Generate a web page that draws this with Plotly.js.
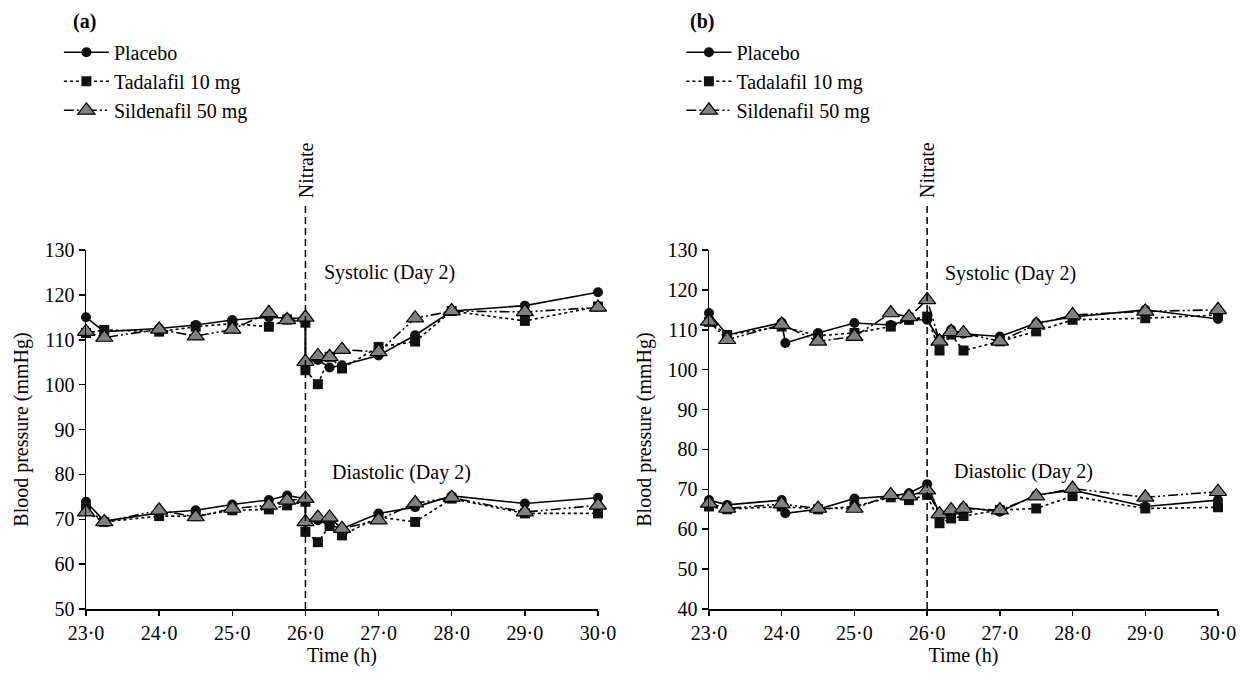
<!DOCTYPE html>
<html><head><meta charset="utf-8">
<script src="https://cdn.plot.ly/plotly-3.0.1.min.js"></script>
<style>html,body{margin:0;padding:0;background:#fff;}#chart{width:1240px;height:683px;}</style>
</head><body><div id="chart"></div>
<script>
// Time points (h)
const timesA = [23.0, 23.25, 24.0, 24.5, 25.0, 25.5, 25.75, 26.0, 26.0, 26.17, 26.33, 26.5, 27.0, 27.5, 28.0, 29.0, 30.0];
const timesB = [23.0, 23.25, 24.0, 24.05, 24.5, 25.0, 25.5, 25.75, 26.0, 26.17, 26.33, 26.5, 27.0, 27.5, 28.0, 29.0, 30.0];

// Panel (a)
const placeboSysA    = [115.0, 111.8, 112.5, 113.3, 114.4, 115.0, 114.8, 114.8, 105.0, 105.5, 103.8, 104.3, 106.5, 111.0, 116.4, 117.6, 120.6];
const tadalafilSysA  = [111.5, 112.2, 111.8, 112.9, 113.6, 112.9, 114.5, 113.8, 103.2, 100.1, 106.2, 103.6, 108.4, 109.6, 116.4, 114.2, 117.4];
const sildenafilSysA = [111.8, 110.5, 112.3, 110.8, 112.3, 116.0, 114.4, 115.0, 105.1, 106.4, 106.2, 107.8, 107.3, 114.8, 116.4, 116.2, 117.2];
const placeboDiaA    = [73.9, 69.6, 71.4, 72.0, 73.3, 74.3, 75.3, 74.6, 69.4, 69.8, 68.7, 67.9, 71.3, 72.7, 75.2, 73.5, 74.8];
const tadalafilDiaA  = [72.4, 69.4, 70.7, 70.7, 72.0, 72.2, 73.1, 73.9, 67.2, 64.9, 68.5, 66.4, 70.5, 69.4, 74.6, 71.3, 71.3];
const sildenafilDiaA = [71.6, 69.4, 72.0, 70.5, 72.4, 73.1, 74.2, 74.6, 69.4, 70.4, 70.4, 67.9, 69.8, 73.6, 74.8, 71.6, 73.1];

// Panel (b)
const placeboSysB    = [114.2, 108.7, 111.8, 106.7, 109.2, 111.7, 111.2, 112.5, 112.5, 107.5, 110.0, 109.0, 108.3, 111.7, 113.2, 115.0, 112.7];
const tadalafilSysB  = [112.0, 108.7, 110.8, null, 108.5, 109.2, 110.8, 112.5, 113.3, 104.8, 108.8, 104.8, 107.1, 109.6, 112.5, 112.9, 113.7];
const sildenafilSysB = [112.1, 107.5, 111.3, null, 107.1, 108.3, 114.2, 113.2, 117.5, 107.1, 109.5, 109.2, 107.1, 111.3, 113.7, 114.6, 115.0];
const placeboDiaB    = [67.3, 66.1, 67.3, 64.0, 65.0, 67.7, 68.3, 69.0, 71.3, 63.8, 64.0, 65.5, 64.4, 68.6, 69.8, 65.7, 67.3];
const tadalafilDiaB  = [65.7, 65.0, 65.7, null, 65.0, 65.7, 68.0, 67.3, 68.6, 61.5, 62.7, 63.3, 64.8, 65.2, 68.3, 65.2, 65.5];
const sildenafilDiaB = [66.5, 65.2, 66.3, null, 65.2, 65.2, 68.6, 68.3, 69.8, 63.8, 64.8, 65.2, 64.8, 68.3, 70.2, 68.0, 69.4];

const seriesNames = ['Placebo', 'Tadalafil 10 mg', 'Sildenafil 50 mg'];
const xTickVals = [23, 24, 25, 26, 27, 28, 29, 30];
const xTickText = ['23·0', '24·0', '25·0', '26·0', '27·0', '28·0', '29·0', '30·0'];
const nitrateTime = 26.0;

const FONT = 'Liberation Serif, Times New Roman, serif';
const FS = 20;
const styles = [
  {line: {color: '#000', width: 1.6, dash: 'solid'}, marker: {symbol: 'circle', size: 10, color: '#111'}},
  {line: {color: '#000', width: 1.6, dash: '3px,3px'}, marker: {symbol: 'square', size: 10, color: '#111'}},
  {line: {color: '#000', width: 1.6, dash: '10px,3px,2px,3px,2px,3px'}, marker: {symbol: 'triangle-up', size: 15, color: '#808080', line: {color: '#000', width: 1.2}}}
];

function mk(x, y, i, xa, ya, legend, show) {
  return {x: x, y: y, type: 'scatter', mode: 'lines+markers', name: seriesNames[i],
    xaxis: xa, yaxis: ya, legend: legend, showlegend: show, legendgroup: legend + i,
    line: styles[i].line, marker: styles[i].marker, cliponaxis: false, connectgaps: true, hoverinfo: 'x+y'};
}

const data = [
  mk(timesA, placeboSysA, 0, 'x', 'y', 'legend', true),
  mk(timesA, tadalafilSysA, 1, 'x', 'y', 'legend', true),
  mk(timesA, sildenafilSysA, 2, 'x', 'y', 'legend', true),
  mk(timesA, placeboDiaA, 0, 'x', 'y', 'legend', false),
  mk(timesA, tadalafilDiaA, 1, 'x', 'y', 'legend', false),
  mk(timesA, sildenafilDiaA, 2, 'x', 'y', 'legend', false),
  mk(timesB, placeboSysB, 0, 'x2', 'y2', 'legend2', true),
  mk(timesB, tadalafilSysB, 1, 'x2', 'y2', 'legend2', true),
  mk(timesB, sildenafilSysB, 2, 'x2', 'y2', 'legend2', true),
  mk(timesB, placeboDiaB, 0, 'x2', 'y2', 'legend2', false),
  mk(timesB, tadalafilDiaB, 1, 'x2', 'y2', 'legend2', false),
  mk(timesB, sildenafilDiaB, 2, 'x2', 'y2', 'legend2', false)
];

const yDom = [1 - 609/683, 1 - 250/683];
function xAxis(dom) {
  return {domain: dom, range: [23, 30], tickvals: xTickVals, ticktext: xTickText,
    showline: true, linecolor: '#000', linewidth: 1.5, ticks: 'outside', ticklen: 5, tickwidth: 1.5, tickcolor: '#000',
    showgrid: false, zeroline: false, tickfont: {family: FONT, size: FS, color: '#000'},
    title: {text: 'Time (h)', font: {family: FONT, size: FS, color: '#000'}, standoff: 5}};
}
function yAxis(range, anchor) {
  return {domain: yDom, range: range, anchor: anchor, dtick: 10, tick0: 0,
    showline: true, linecolor: '#000', linewidth: 1.5, ticks: 'outside', ticklen: 6, tickwidth: 1.5, tickcolor: '#000',
    showgrid: false, zeroline: false, tickfont: {family: FONT, size: FS, color: '#000'},
    title: {text: 'Blood pressure (mmHg)', font: {family: FONT, size: FS, color: '#000'}, standoff: 10}};
}

const legendBase = {bgcolor: 'rgba(0,0,0,0)', borderwidth: 0, font: {family: FONT, size: FS, color: '#000'},
  xanchor: 'left', yanchor: 'top', itemwidth: 45, tracegroupgap: 0, traceorder: 'normal'};

const layout = {
  width: 1240, height: 683, paper_bgcolor: '#fff', plot_bgcolor: '#fff',
  margin: {l: 0, r: 0, t: 0, b: 0},
  font: {family: FONT, size: FS, color: '#000'},
  xaxis: Object.assign(xAxis([86/1240, 598/1240]), {anchor: 'y'}),
  yaxis: yAxis([50, 130], 'x'),
  xaxis2: Object.assign(xAxis([709/1240, 1218/1240]), {anchor: 'y2'}),
  yaxis2: yAxis([40, 130], 'x2'),
  legend: Object.assign({}, legendBase, {x: 0.0475, y: 0.952}),
  legend2: Object.assign({}, legendBase, {x: 0.5495, y: 0.952}),
  shapes: [
    {type: 'line', xref: 'x', yref: 'y domain', x0: nitrateTime, x1: nitrateTime, y0: 0, y1: 1.13, line: {color: '#000', width: 1.5, dash: '7px,4px'}},
    {type: 'line', xref: 'x2', yref: 'y2 domain', x0: nitrateTime, x1: nitrateTime, y0: 0, y1: 1.13, line: {color: '#000', width: 1.5, dash: '7px,4px'}}
  ],
  annotations: [
    {text: '<b>(a)</b>', xref: 'paper', yref: 'paper', x: 0.057, y: 1 - 22/683, xanchor: 'left', yanchor: 'middle', showarrow: false, font: {family: FONT, size: FS}},
    {text: '<b>(b)</b>', xref: 'paper', yref: 'paper', x: 0.555, y: 1 - 22/683, xanchor: 'left', yanchor: 'middle', showarrow: false, font: {family: FONT, size: FS}},
    {text: 'Nitrate', xref: 'x', yref: 'y domain', x: nitrateTime, y: 1.14, yanchor: 'bottom', xanchor: 'center', textangle: -90, showarrow: false, font: {family: FONT, size: FS}},
    {text: 'Nitrate', xref: 'x2', yref: 'y2 domain', x: nitrateTime, y: 1.14, yanchor: 'bottom', xanchor: 'center', textangle: -90, showarrow: false, font: {family: FONT, size: FS}},
    {text: 'Systolic (Day 2)', xref: 'x', yref: 'y', x: 26.22, y: 125, xanchor: 'left', showarrow: false, font: {family: FONT, size: FS}},
    {text: 'Diastolic (Day 2)', xref: 'x', yref: 'y', x: 26.33, y: 80.4, xanchor: 'left', showarrow: false, font: {family: FONT, size: FS}},
    {text: 'Systolic (Day 2)', xref: 'x2', yref: 'y2', x: 26.22, y: 124.2, xanchor: 'left', showarrow: false, font: {family: FONT, size: FS}},
    {text: 'Diastolic (Day 2)', xref: 'x2', yref: 'y2', x: 26.34, y: 74.5, xanchor: 'left', showarrow: false, font: {family: FONT, size: FS}}
  ]
};

Plotly.newPlot('chart', data, layout, {staticPlot: true, displayModeBar: false});
</script>
</body></html>
